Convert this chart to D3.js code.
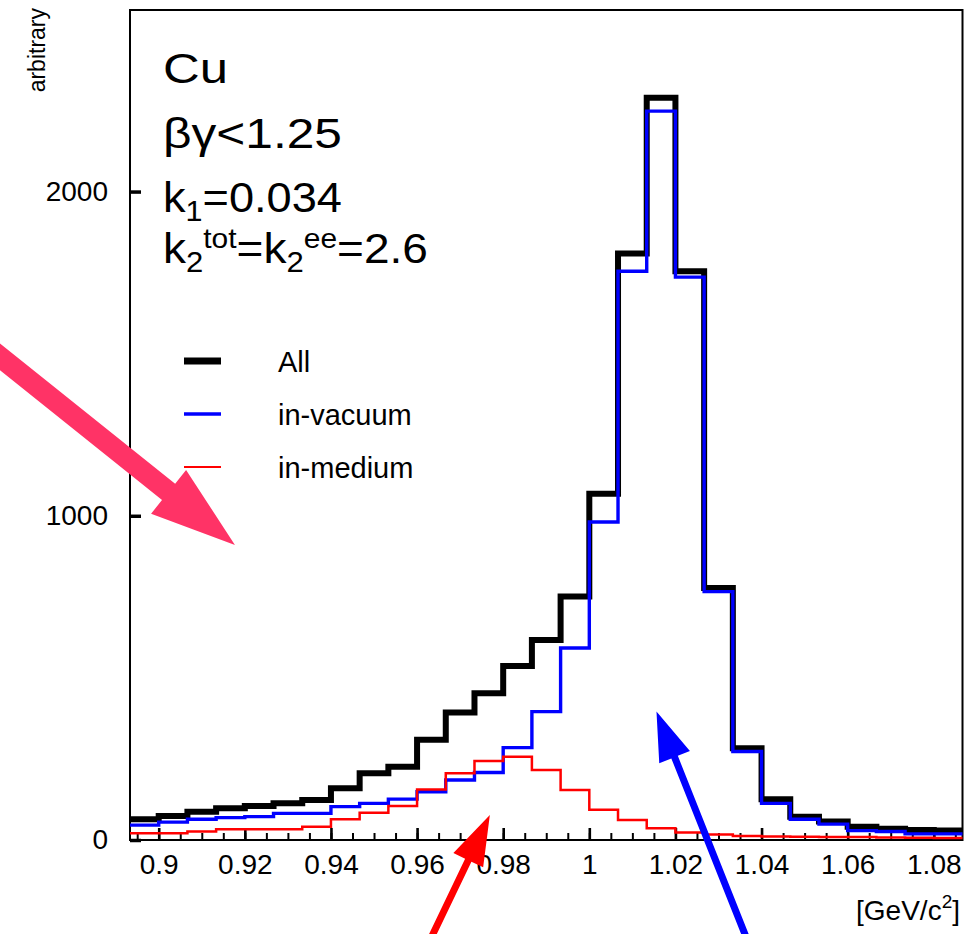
<!DOCTYPE html>
<html>
<head>
<meta charset="utf-8">
<script src="https://cdn.jsdelivr.net/npm/d3@7"></script>
<style>
  html, body { margin: 0; padding: 0; background: #fff; }
  svg text { font-family: "Liberation Sans", Arial, Helvetica, sans-serif; fill: #000; }
</style>
</head>
<body>
<svg id="chart" width="977" height="934"></svg>
<script>
// Invariant-mass spectrum of phi -> e+e- candidates, Cu target, beta*gamma < 1.25
// Histogram binning (GeV/c^2)
const massRange = [0.89333, 1.08667];
const nBins = 29;

// Bin contents (arbitrary units)
const allCounts    = [64, 74, 87, 98, 105, 113, 123, 160, 206, 226, 309, 393, 453, 537, 617, 751,
                      1068, 1809, 2289, 1754, 777, 283, 126, 72, 57, 41, 35, 31, 29];
const vacuumCounts = [46, 55, 64, 69, 72, 82, 82, 103, 113, 126, 149, 185, 208, 285, 396, 592,
                      981, 1754, 2248, 1736, 766, 273, 113, 64, 49, 29, 26, 19, 19];
const mediumCounts = [21, 21, 26, 33, 33, 33, 41, 64, 84, 105, 156, 206, 244, 257, 216, 154,
                      93, 62, 36, 23, 17, 12, 11, 10, 9, 9, 8, 7, 6];

// Axes
const xTickValues = [0.90, 0.92, 0.94, 0.96, 0.98, 1.00, 1.02, 1.04, 1.06, 1.08];
const xTickLabels = ["0.9", "0.92", "0.94", "0.96", "0.98", "1", "1.02", "1.04", "1.06", "1.08"];
const yTickValues = [0, 1000, 2000];
const yTickLabels = ["0", "1000", "2000"];
const yMax = 2560;

// Legend
const seriesNames = ["All", "in-vacuum", "in-medium"];

// Annotation arrows, given as (mass, counts) for tail and tip
const arrowTails = [[0.8608, 1515], [0.9630, -309], [1.0367, -309]];
const arrowTips  = [[0.9177, 910],  [0.9769, 77],   [1.0156, 396]];

// ---------------------------------------------------------------------------
const svg = d3.select("#chart");
const frame = { left: 130, right: 962.5, top: 10, bottom: 840 };

const x = d3.scaleLinear().domain(massRange).range([frame.left, frame.right]);
const y = d3.scaleLinear().domain([0, yMax]).range([frame.bottom, frame.top]);

const binWidth = (massRange[1] - massRange[0]) / nBins;
const edges = d3.range(nBins + 1).map(i => massRange[0] + i * binWidth);

// axes: ticks point into the frame
const minorTicks = d3.range(0.895, 1.0851, 0.005).filter(v => v > massRange[0] && v < massRange[1]);

svg.append("g")
  .attr("transform", `translate(0,${frame.bottom})`)
  .call(d3.axisBottom(x).tickValues(minorTicks).tickSize(-7).tickSizeOuter(0).tickFormat(""))
  .call(g => g.select(".domain").remove())
  .call(g => g.selectAll(".tick line").attr("stroke", "#000").attr("stroke-width", 2));

const xAxis = svg.append("g")
  .attr("transform", `translate(0,${frame.bottom})`)
  .call(d3.axisBottom(x).tickValues(xTickValues).tickSize(-12).tickSizeOuter(0).tickPadding(14)
        .tickFormat((d, i) => xTickLabels[i]));
xAxis.select(".domain").remove();
xAxis.selectAll(".tick line").attr("stroke", "#000").attr("stroke-width", 2.6);
xAxis.selectAll(".tick text").attr("font-size", 28).attr("font-family", null).attr("fill", "#000");

const yAxis = svg.append("g")
  .attr("transform", `translate(${frame.left},0)`)
  .call(d3.axisLeft(y).tickValues(yTickValues).tickSize(-11).tickSizeOuter(0).tickPadding(22)
        .tickFormat((d, i) => yTickLabels[i]));
yAxis.select(".domain").remove();
yAxis.selectAll(".tick line").attr("stroke", "#000").attr("stroke-width", 3.5);
yAxis.selectAll(".tick text").attr("font-size", 28).attr("font-family", null).attr("fill", "#000");

// frame
svg.append("rect")
  .attr("x", frame.left).attr("y", frame.top)
  .attr("width", frame.right - frame.left).attr("height", frame.bottom - frame.top)
  .attr("fill", "none").attr("stroke", "#000").attr("stroke-width", 2);

// step histograms
const stepLine = d3.line()
  .x(d => x(d[0]))
  .y(d => y(d[1]))
  .curve(d3.curveStepAfter);

function histPoints(counts) {
  const pts = counts.map((c, i) => [edges[i], c]);
  pts.push([edges[nBins], counts[nBins - 1]]);
  return pts;
}

const series = [
  { counts: allCounts,    color: "#000000", width: 6 },
  { counts: vacuumCounts, color: "#0000ff", width: 3.4 },
  { counts: mediumCounts, color: "#ff0000", width: 2.5 }
];

svg.append("g").selectAll("path")
  .data(series)
  .join("path")
  .attr("d", s => stepLine(histPoints(s.counts)))
  .attr("fill", "none")
  .attr("stroke", s => s.color)
  .attr("stroke-width", s => s.width)
  .attr("stroke-linejoin", "miter")
  .attr("stroke-linecap", "butt");

// y axis title
svg.append("text")
  .attr("transform", "translate(45,8) rotate(-90)")
  .attr("text-anchor", "end")
  .attr("font-size", 23)
  .text("arbitrary");

// x axis title
const xTitle = svg.append("text")
  .attr("x", 960).attr("y", 920)
  .attr("text-anchor", "end")
  .attr("font-size", 28);
xTitle.append("tspan").text("[GeV/c");
xTitle.append("tspan").attr("font-size", 19).attr("dy", -12).text("2");
xTitle.append("tspan").attr("dy", 12).text("]");

// info block: each line is stretched horizontally to its span
const info = svg.append("g");
function infoLine(baseline, span, parts) {
  const t = info.append("text").attr("font-size", 43);
  parts.forEach(p => {
    const ts = t.append("tspan").text(p.t);
    if (p.size) ts.attr("font-size", p.size);
    if (p.dy) ts.attr("dy", p.dy);
  });
  const w = t.node().getComputedTextLength();
  t.attr("transform", `translate(163,${baseline}) scale(${span / w},1)`);
}
infoLine(83,  65,  [{ t: "Cu" }]);
infoLine(148, 179, [{ t: "βγ<1.25" }]);
infoLine(212, 179, [{ t: "k" }, { t: "1", size: 29, dy: 9 }, { t: "=0.034", dy: -9 }]);
infoLine(263, 265, [{ t: "k" }, { t: "2", size: 29, dy: 9 }, { t: "tot", size: 28, dy: -24 },
                    { t: "=k", dy: 15 }, { t: "2", size: 29, dy: 9 }, { t: "ee", size: 28, dy: -24 },
                    { t: "=2.6", dy: 15 }]);

// legend
const legend = svg.append("g");
const legendRows = legend.selectAll("g")
  .data(series)
  .join("g")
  .attr("transform", (d, i) => `translate(0,${361 + i * 53})`);
legendRows.append("line")
  .attr("x1", 184).attr("x2", 221)
  .attr("stroke", s => s.color)
  .attr("stroke-width", (s, i) => [7, 3.6, 2][i]);
legendRows.append("text")
  .attr("x", 278).attr("y", 11)
  .attr("font-size", 29)
  .text((s, i) => seriesNames[i]);

// annotation arrows
const arrowStyles = [
  { color: "#ff3366", shaft: 21, headLen: 85, headW: 56 },
  { color: "#ff0000", shaft: 7,  headLen: 50, headW: 33 },
  { color: "#0000ff", shaft: 7,  headLen: 49, headW: 33 }
];
function arrowPolygon(tail, tip, st) {
  const x0 = x(tail[0]), y0 = y(tail[1]), x1 = x(tip[0]), y1 = y(tip[1]);
  const L = Math.hypot(x1 - x0, y1 - y0);
  const ux = (x1 - x0) / L, uy = (y1 - y0) / L, px = -uy, py = ux;
  const bx = x1 - ux * st.headLen, by = y1 - uy * st.headLen;
  const s = st.shaft / 2, h = st.headW / 2;
  return [
    [x0 + px * s, y0 + py * s], [bx + px * s, by + py * s], [bx + px * h, by + py * h],
    [x1, y1],
    [bx - px * h, by - py * h], [bx - px * s, by - py * s], [x0 - px * s, y0 - py * s]
  ];
}
svg.append("g").selectAll("polygon")
  .data(arrowTails.map((t, i) => ({ tail: t, tip: arrowTips[i], st: arrowStyles[i] })))
  .join("polygon")
  .attr("points", d => arrowPolygon(d.tail, d.tip, d.st).map(p => p.join(",")).join(" "))
  .attr("fill", d => d.st.color);
</script>
</body>
</html>
